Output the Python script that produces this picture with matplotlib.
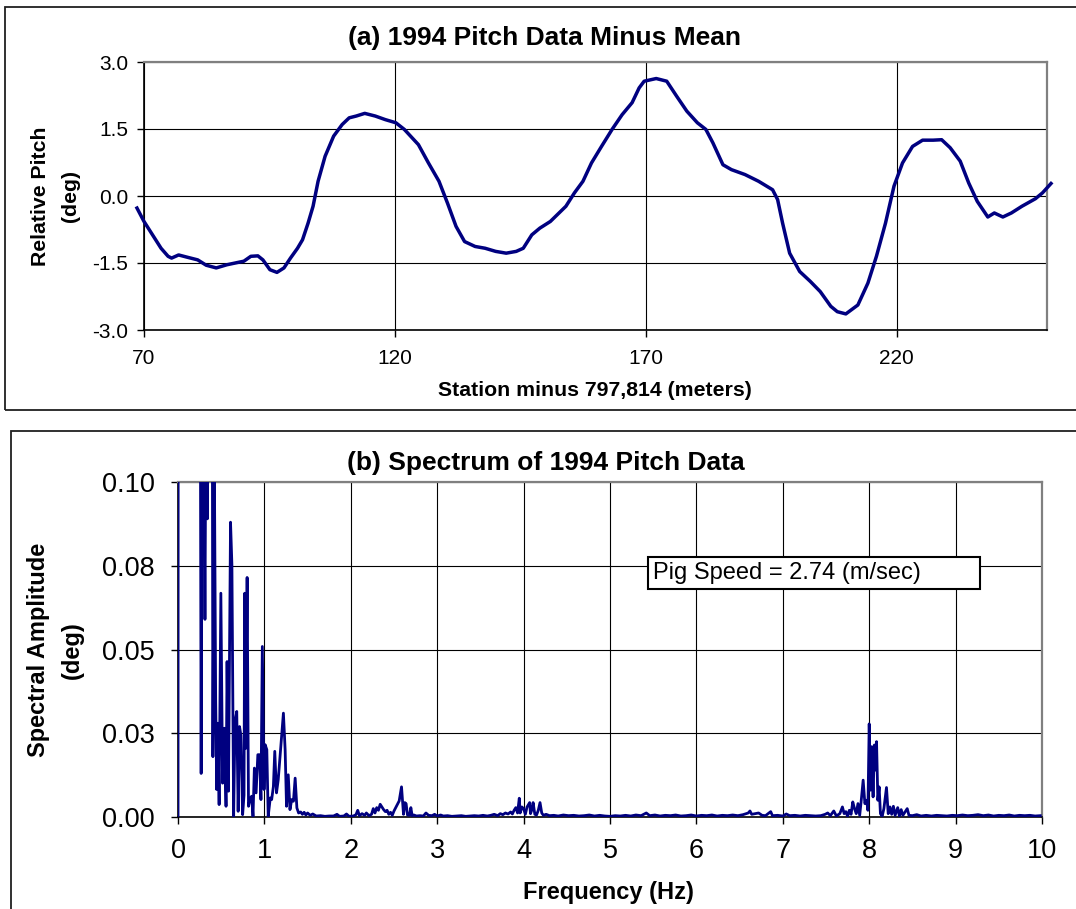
import matplotlib
matplotlib.use('Agg')
import matplotlib.pyplot as plt
from matplotlib.patches import Rectangle

W, H = 1076, 909
plt.rcParams['font.family'] = ['Liberation Sans', 'DejaVu Sans']

# (a) pitch minus mean
station = [68.6, 70.0, 71.7, 73.4, 74.8, 75.5, 76.9, 78.6, 80.7, 82.4, 84.4, 86.5,
           88.6, 89.9, 91.3, 92.7, 93.7, 95.1, 96.5, 97.9, 99.2, 100.6, 101.6, 102.7,
           103.7, 104.7, 106.1, 107.8, 109.5, 110.9, 112.3, 114.0, 116.1, 118.1, 120.2,
           121.9, 124.7, 126.7, 128.8, 130.5, 132.2, 133.9, 136.0, 138.0, 140.1, 142.2,
           144.2, 145.6, 147.3, 148.9, 151.0, 154.1, 155.8, 157.5, 159.2, 161.2, 163.3,
           165.3, 167.3, 168.7, 169.7, 172.1, 174.2, 176.2, 178.2, 180.3, 182.0, 183.4,
           185.4, 187.1, 189.8, 192.5, 195.3, 196.3, 197.3, 198.7, 200.7, 202.8, 204.8,
           206.9, 208.2, 209.9, 212.3, 214.3, 216.0, 217.8, 219.5, 221.2, 223.2, 225.2,
           227.3, 229.0, 230.7, 232.7, 234.4, 236.1, 238.2, 239.5, 241.2, 242.9, 245.0,
           247.7, 249.1, 250.8]
pitch = [-0.27, -0.57, -0.87, -1.17, -1.35, -1.39, -1.32, -1.37, -1.43, -1.55, -1.61, -1.54,
         -1.49, -1.46, -1.35, -1.34, -1.43, -1.65, -1.71, -1.61, -1.39, -1.17, -0.98, -0.61,
         -0.23, 0.33, 0.89, 1.34, 1.60, 1.75, 1.79, 1.85, 1.79, 1.71, 1.64,
         1.49, 1.15, 0.74, 0.33, -0.16, -0.68, -1.02, -1.13, -1.17, -1.24, -1.28,
         -1.24, -1.17, -0.87, -0.72, -0.57, -0.23, 0.07, 0.33, 0.74, 1.11, 1.49,
         1.82, 2.09, 2.42, 2.57, 2.63, 2.57, 2.23, 1.90, 1.64, 1.49, 1.19,
         0.70, 0.59, 0.48, 0.33, 0.14, -0.08, -0.61, -1.28, -1.69, -1.91, -2.14,
         -2.47, -2.59, -2.64, -2.44, -1.95, -1.35, -0.61, 0.22, 0.74, 1.11, 1.25,
         1.25, 1.26, 1.08, 0.78, 0.29, -0.12, -0.47, -0.38, -0.47, -0.38, -0.23,
         -0.06, 0.07, 0.28]

# (b) spectrum
freq = [0.000, 0.015, 0.030, 0.046, 0.061, 0.076, 0.091, 0.107, 0.122, 0.137, 0.152, 0.167,
        0.183, 0.198, 0.213, 0.228, 0.244, 0.259, 0.268, 0.280, 0.296, 0.312, 0.326, 0.340,
        0.354, 0.368, 0.382, 0.396, 0.404, 0.420, 0.436, 0.448, 0.462, 0.476, 0.496, 0.516,
        0.536, 0.556, 0.568, 0.584, 0.608, 0.624, 0.644, 0.660, 0.680, 0.696, 0.712, 0.728,
        0.748, 0.764, 0.772, 0.784, 0.800, 0.816, 0.832, 0.852, 0.868, 0.884, 0.904, 0.924,
        0.944, 0.960, 0.976, 0.996, 1.008, 1.028, 1.044, 1.068, 1.084, 1.104, 1.120, 1.140,
        1.160, 1.180, 1.200, 1.220, 1.240, 1.256, 1.276, 1.296, 1.316, 1.336, 1.356, 1.376,
        1.396, 1.42, 1.44, 1.46, 1.48, 1.50, 1.53, 1.56, 1.60, 1.65, 1.70, 1.75, 1.80, 1.84,
        1.87, 1.92, 1.95, 1.98, 2.03, 2.06, 2.08, 2.10, 2.13, 2.16, 2.18, 2.21, 2.24, 2.26,
        2.28, 2.30, 2.32, 2.34, 2.36, 2.38, 2.40, 2.42, 2.44, 2.46, 2.48, 2.50, 2.52, 2.56,
        2.587, 2.60, 2.61, 2.625, 2.64, 2.656, 2.68, 2.695, 2.71, 2.73, 2.76, 2.80, 2.84,
        2.87, 2.90, 2.94, 2.97, 3.00, 3.04, 3.07, 3.12, 3.17, 3.22, 3.28, 3.33, 3.38, 3.43,
        3.48, 3.53, 3.58, 3.62, 3.66, 3.70, 3.73, 3.76, 3.79, 3.82, 3.85, 3.87, 3.89, 3.91,
        3.93, 3.95, 3.96, 3.98, 4.00, 4.02, 4.04, 4.07, 4.08, 4.10, 4.11, 4.13, 4.15, 4.17,
        4.19, 4.21, 4.23, 4.26, 4.30, 4.35, 4.40, 4.46, 4.52, 4.58, 4.64, 4.70, 4.76, 4.82,
        4.88, 4.94, 5.00, 5.06, 5.12, 5.18, 5.24, 5.30, 5.36, 5.42, 5.46, 5.52, 5.58, 5.64,
        5.70, 5.76, 5.82, 5.88, 5.94, 6.00, 6.06, 6.12, 6.18, 6.24, 6.30, 6.36, 6.42, 6.48,
        6.54, 6.60, 6.62, 6.64, 6.68, 6.72, 6.76, 6.80, 6.86, 6.88, 6.94, 7.00, 7.04, 7.08,
        7.14, 7.20, 7.26, 7.32, 7.38, 7.44, 7.49, 7.52, 7.55, 7.59, 7.62, 7.66, 7.69, 7.71,
        7.73, 7.75, 7.77, 7.79, 7.81, 7.83, 7.85, 7.87, 7.89, 7.91, 7.93, 7.95, 7.97, 7.985,
        8.00, 8.015, 8.03, 8.045, 8.06, 8.07, 8.085, 8.10, 8.115, 8.13, 8.15, 8.17, 8.20,
        8.22, 8.24, 8.26, 8.28, 8.30, 8.33, 8.35, 8.37, 8.39, 8.44, 8.46, 8.50, 8.55, 8.60,
        8.66, 8.72, 8.78, 8.84, 8.90, 8.96, 9.02, 9.08, 9.14, 9.20, 9.26, 9.32, 9.38, 9.44,
        9.50, 9.56, 9.62, 9.68, 9.74, 9.80, 9.86, 9.92, 9.98]
amp = [0.000, 0.95, 1.55, 1.20, 0.74, 0.88, 0.61, 0.47, 0.53, 0.39, 0.31, 0.34,
       0.26, 0.22, 0.19, 0.21, 0.16, 0.12, 0.013, 0.150, 0.130, 0.059, 0.140, 0.089,
       0.160, 0.125, 0.180, 0.140, 0.018, 0.110, 0.035, 0.0082, 0.028, 0.0037, 0.0668, 0.0101,
       0.0265, 0.0032, 0.0464, 0.0077, 0.0880, 0.0752, 0.0002, 0.0285, 0.0315, 0.0017, 0.0270, 0.0244,
       0.0007, 0.0065, 0.0668, 0.0205, 0.0715, 0.0032, 0.0052, 0.0062, 0.0002, 0.0146, 0.0072, 0.0186,
       0.0186, 0.0052, 0.0509, 0.0082, 0.0216, 0.0201, 0.0002, 0.0057, 0.0052, 0.0091, 0.0196, 0.0072,
       0.0111, 0.0176, 0.0240, 0.0310, 0.0201, 0.0032, 0.0126, 0.0022, 0.0052, 0.0047, 0.0116, 0.0027,
       0.0012, 0.0015, 0.0008, 0.0014, 0.0006, 0.0012, 0.0005, 0.0009, 0.0003, 0.0004, 0.0002, 0.0003,
       0.0003, 0.0008, 0.0002, 0.0003, 0.0009, 0.0002, 0.0003, 0.0007, 0.0020, 0.0004, 0.0010, 0.0005,
       0.0012, 0.0004, 0.0008, 0.0025, 0.0012, 0.0028, 0.0020, 0.0038, 0.0030, 0.0022, 0.0016, 0.0020,
       0.0008, 0.0014, 0.0005, 0.0018, 0.0028, 0.0048,
       0.0090, 0.0045, 0.0008, 0.0043, 0.0040, 0.0006, 0.0005, 0.0028, 0.0004, 0.0006, 0.0003, 0.0004, 0.0003,
       0.0012, 0.0005, 0.0004, 0.0008, 0.0003, 0.0006, 0.0003, 0.0004, 0.0002, 0.0003, 0.0004, 0.0002, 0.0003, 0.0004,
       0.0003, 0.0005, 0.0003, 0.0005, 0.0008, 0.0004, 0.0010, 0.0007, 0.0012, 0.0009, 0.0015, 0.0009, 0.0020, 0.0028,
       0.0012, 0.0056, 0.0012, 0.0030, 0.0025, 0.0008, 0.0030, 0.0043, 0.0010, 0.0025, 0.0043, 0.0008, 0.0006, 0.0020,
       0.0043, 0.0012, 0.0005, 0.0008, 0.0004, 0.0005, 0.0003, 0.0006, 0.0004, 0.0005, 0.0003, 0.0004, 0.0006, 0.0003,
       0.0005, 0.0003, 0.0002, 0.0004, 0.0003, 0.0005, 0.0003, 0.0006, 0.0004, 0.0012, 0.0004, 0.0006, 0.0003, 0.0005,
       0.0004, 0.0006, 0.0003, 0.0004, 0.0006, 0.0003, 0.0005, 0.0004, 0.0006, 0.0003, 0.0005, 0.0004, 0.0006, 0.0004,
       0.0007, 0.0012, 0.0018, 0.0008, 0.0010, 0.0012, 0.0005, 0.0004, 0.0016, 0.0004, 0.0005, 0.0003, 0.0009, 0.0004,
       0.0005, 0.0003, 0.0005, 0.0004, 0.0003, 0.0004, 0.0008, 0.0012, 0.0004, 0.0018, 0.0003, 0.0010, 0.0030, 0.0010,
       0.0016, 0.0002, 0.0020, 0.0008, 0.0045, 0.0025, 0.0010, 0.0040, 0.0005, 0.0055, 0.0110, 0.0040, 0.0050, 0.0020,
       0.0278, 0.0080, 0.0210, 0.0060, 0.0215, 0.0140, 0.0225, 0.0050, 0.0090, 0.0010, 0.0002, 0.0025, 0.0088,
       0.0010, 0.0030, 0.0008, 0.0032, 0.0005, 0.0028, 0.0002, 0.0022, 0.0005, 0.0025, 0.0005, 0.0004, 0.0007, 0.0003,
       0.0005, 0.0003, 0.0005, 0.0004, 0.0003, 0.0005, 0.0004, 0.0006, 0.0004, 0.0005, 0.0007, 0.0004, 0.0006, 0.0003,
       0.0005, 0.0004, 0.0006, 0.0003, 0.0005, 0.0004, 0.0005, 0.0003, 0.0004]

top_xticks = [70, 120, 170, 220]
top_yticks = [-3.0, -1.5, 0.0, 1.5, 3.0]
bot_xticks = list(range(0, 11))
bot_yticks = [0.0, 0.025, 0.05, 0.075, 0.1]
bot_ylabels = ['0.00', '0.03', '0.05', '0.08', '0.10']

navy = '#000080'


def px_box(x0, y0, x1, y1):
    # pixel box (top-left origin) -> figure fraction rect
    return [x0 / W, 1 - y1 / H, (x1 - x0) / W, (y1 - y0) / H]


def ftext(x, y, s, **kw):
    fig.text(x / W, 1 - y / H, s, ha='center', va='center', **kw)


def style_axes(ax, fs, xpad, ypad):
    for s in ['top', 'right']:
        ax.spines[s].set_color('#808080')
        ax.spines[s].set_linewidth(1.6)
    for s in ['left', 'bottom']:
        ax.spines[s].set_color('black')
        ax.spines[s].set_linewidth(1.2)
    ax.grid(True, color='black', lw=0.8)
    ax.set_axisbelow(True)
    ax.tick_params(direction='out', length=5, width=1.0, labelsize=fs)
    ax.tick_params(axis='x', pad=xpad)
    ax.tick_params(axis='y', pad=ypad)


fig = plt.figure(figsize=(W / 100, H / 100), dpi=100)

# chart frames
fig.patches.append(Rectangle((5 / W, 1 - 410 / H), 1100 / W, 403 / H, transform=fig.transFigure,
                             fill=False, ec='#202020', lw=1.3))
fig.patches.append(Rectangle((11 / W, 1 - 960 / H), 1100 / W, 529 / H, transform=fig.transFigure,
                             fill=False, ec='#202020', lw=1.3))

# (a)
ax1 = fig.add_axes(px_box(144, 62, 1047, 330))
ax1.plot(station, pitch, color=navy, lw=2.5, clip_on=False, zorder=3)
ax1.set_xlim(70, 250)
ax1.set_ylim(-3, 3)
ax1.set_xticks(top_xticks)
ax1.set_yticks(top_yticks)
ax1.set_yticklabels(['%.1f' % v for v in top_yticks])
style_axes(ax1, 15, 9, 6.5)

ftext(545, 37.5, '(a) 1994 Pitch Data Minus Mean', fontsize=19, fontweight='bold')
ftext(595, 390, 'Station minus 797,814 (meters)', fontsize=15.3, fontweight='bold')
ftext(40, 196, 'Relative Pitch', fontsize=15.3, fontweight='bold', rotation=90)
ftext(70.6, 196, '(deg)', fontsize=15.3, fontweight='bold', rotation=90)

# (b)
ax2 = fig.add_axes(px_box(178, 482, 1042, 817))
ax2.plot(freq, amp, color=navy, lw=2.0, zorder=3)
ax2.set_xlim(0, 10)
ax2.set_ylim(0, 0.1)
ax2.set_xticks(bot_xticks)
ax2.set_yticks(bot_yticks)
ax2.set_yticklabels(bot_ylabels)
style_axes(ax2, 19.5, 10, 12)

ftext(545.5, 463, '(b) Spectrum of 1994 Pitch Data', fontsize=19, fontweight='bold')
ftext(608.5, 892, 'Frequency (Hz)', fontsize=17, fontweight='bold')
ftext(38.6, 650, 'Spectral Amplitude', fontsize=17, fontweight='bold', rotation=90)
ftext(72, 650, '(deg)', fontsize=17, fontweight='bold', rotation=90)

# annotation box
fig.patches.append(Rectangle((648 / W, 1 - 589 / H), 332 / W, 32 / H, transform=fig.transFigure,
                             fc='white', ec='black', lw=1.5, zorder=5))
fig.text(653 / W, 1 - 573 / H, 'Pig Speed = 2.74 (m/sec)', ha='left', va='center',
         fontsize=17, zorder=6)

fig.savefig('out.png', dpi=100)
